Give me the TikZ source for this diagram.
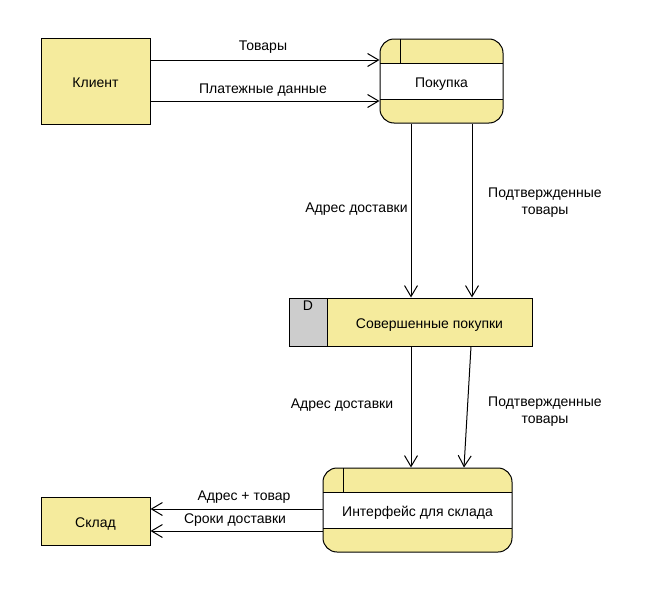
\documentclass[tikz,border=0pt]{standalone}
\usepackage{fontspec}
\setmainfont{Liberation Sans}
\usetikzlibrary{arrows.meta,calc}

\definecolor{dfdyellow}{RGB}{245,235,157}
\definecolor{dfdgray}{RGB}{205,205,205}

\tikzset{
  every node/.style={font=\fontsize{14}{17}\selectfont},
  boxtext/.style={text height=13pt, text depth=0pt},
  entity/.style={draw, fill=dfdyellow, minimum width=109pt, inner sep=0pt, boxtext},
  process/.style={draw, fill=dfdyellow, rounded corners=14pt, minimum height=84pt, inner sep=0pt, boxtext,
    path picture={
      \coordinate (pnw) at (path picture bounding box.north west);
      \coordinate (pse) at (path picture bounding box.south east);
      \fill[white, sharp corners] ($(pnw)+(0,-24pt)$) rectangle ($(pse)+(0,24pt)$);
      \draw[sharp corners] ($(pnw)+(0,-24pt)$) -- ($(pnw -| pse)+(0,-24pt)$);
      \draw[sharp corners] ($(pse -| pnw)+(0,24pt)$) -- ($(pse)+(0,24pt)$);
      \draw[sharp corners] ($(pnw)+(20pt,0)$) -- ($(pnw)+(20pt,-24pt)$);
    }},
  store/.style={draw, fill=dfdyellow, minimum height=48pt, inner sep=0pt, boxtext},
  flow/.style={-{Straight Barb[length=11pt,width=13pt]}},
  lbl/.style={inner sep=0pt, align=center},
}

\begin{document}
\begin{tikzpicture}[x=1pt, y=-1pt, line width=1pt]

\useasboundingbox (0,0) rectangle (662,613);

\def\xa{411}; % left flows
\def\xb{472}; % right flow, top
\def\xc{471}; % right flow, store
\def\xd{464}; % right flow, bottom

% outside
\node[entity, minimum height=86pt] (klient) at (95.5,81) {Клиент};
\node[entity, minimum height=48pt] (sklad) at (95.5,521) {Склад};

% processes
\node[process, minimum width=123pt] (pokupka) at (441.5,81) {Покупка};
\node[process, minimum width=189pt] (interfejs) at (417.5,510) {Интерфейс для склада};

% store
\node[store, fill=dfdgray, minimum width=38pt] (storeid) at (308,322) {};
\node[store, minimum width=205pt] (purchases) at (429.5,322) {Совершенные покупки};
\node[lbl] (storeD) at (308,306) {D};

% flows
\draw[flow] ([yshift=21pt]klient.east) -- ([yshift=21pt]pokupka.west);
\node[lbl] (tovary) at (263,47) {Товары};
\draw[flow] ([yshift=-20pt]klient.east) -- ([yshift=-20pt]pokupka.west);
\node[lbl] (plat) at (263,90) {Платежные данные};

\draw[flow] (pokupka.south -| \xa,0) -- (purchases.north -| \xa,0);
\draw[flow] (pokupka.south -| \xb,0) -- (purchases.north -| \xb,0);
\node[lbl] (adr1) at (356.5,209) {Адрес доставки};
\node[lbl] (podt1) at (545,203) {Подтвержденные\\товары};

\draw[flow] (purchases.south -| \xa,0) -- (interfejs.north -| \xa,0);
\draw[flow] (purchases.south -| \xc,0) -- (interfejs.north -| \xd,0);
\node[lbl] (adr2) at (342,405) {Адрес доставки};
\node[lbl] (podt2) at (545,412) {Подтвержденные\\товары};

\draw[flow] ([yshift=1pt]interfejs.west) -- ([yshift=12pt]sklad.east);
\node[lbl] (adrtov) at (244,497) {Адрес + товар};
\draw[flow] ([yshift=-21pt]interfejs.west) -- ([yshift=-10pt]sklad.east);
\node[lbl] (sroki) at (235,520) {Сроки доставки};

\end{tikzpicture}
\end{document}
